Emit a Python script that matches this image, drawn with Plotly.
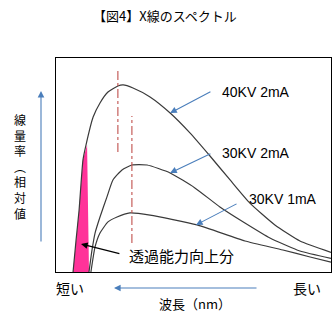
import plotly.graph_objects as go

# ---- data (wavelength in relative units 0-100, intensity relative 0-100) ----
kv40_x = [6.2, 7.3, 8.4, 9.8, 10.9, 13.5, 16.0, 18.9, 22.5, 24.4, 28.0, 34.2, 41.5, 48.7, 56.0, 63.3, 70.5, 79.6, 88.7, 100.0]
kv40_y = [0, 15.0, 29.0, 52.3, 59.3, 72.4, 79.0, 84.1, 86.9, 87.4, 86.0, 81.8, 74.3, 65.0, 54.2, 43.0, 32.2, 22.0, 14.5, 9.2]

kv30_2_x = [12.0, 13.1, 14.2, 16.0, 18.5, 20.7, 24.0, 27.6, 33.1, 41.5, 50.5, 59.6, 68.7, 77.8, 88.7, 100.0]
kv30_2_y = [0, 10.3, 18.2, 25.7, 35.0, 43.0, 47.7, 50.0, 50.0, 46.3, 39.3, 30.4, 22.9, 15.9, 9.8, 6.4]

kv30_1_x = [12.7, 14.2, 16.0, 18.9, 22.2, 26.9, 34.2, 51.3, 68.7, 82.5, 92.4, 100.0]
kv30_1_y = [0, 11.7, 18.2, 23.4, 25.7, 27.6, 26.6, 22.0, 14.5, 10.3, 7.0, 4.6]

pink_x = [6.2, 7.3, 8.4, 9.8, 11.3, 12.0]
pink_y = [0, 15.0, 29.0, 52.3, 59.3, 0]

peak40_x = [22.5, 22.5]
peak40_y = [56.1, 94.9]
peak30_x = [27.6, 27.6]
peak30_y = [13.6, 72.9]

labels = ["40KV 2mA", "30KV 2mA", "30KV 1mA"]
label_pos = [(59.6, 84.1), (59.6, 55.6), (69.5, 34.1)]
arrow_tips = [(41.5, 74.3), (41.5, 46.3), (50.9, 22.0)]
arrow_tails = [(56.7, 84.6), (56.7, 55.6), (66.2, 32.2)]

title = "【図4】X線のスペクトル"
ylabel_chars = ["線", "量", "率", "︵", "相", "対", "値"]
xlabel = "波長（nm）"
short_lbl = "短い"
long_lbl = "長い"
pen_lbl = "透過能力向上分"

W, H = 336, 325
L, R, T, B = 56, 5, 58, 53
pw, ph = W - L - R, H - T - B

def px(xp):
    return (xp - L) / pw

def py(yp):
    return (H - B - yp) / ph

JP = "Noto Sans CJK JP"
LAT = "Liberation Sans, Noto Sans CJK JP"
CURVE = "#3a3a3a"
BLUE = "#4A7EBB"
RED = "#C0504D"

fig = go.Figure()
fig.add_trace(go.Scatter(x=pink_x, y=pink_y, fill="toself", fillcolor="#FF3399",
                         mode="lines", line=dict(width=0), hoverinfo="skip"))
for xs, ys in [(kv40_x, kv40_y), (kv30_2_x, kv30_2_y), (kv30_1_x, kv30_1_y)]:
    fig.add_trace(go.Scatter(x=xs, y=ys, mode="lines",
                             line=dict(color=CURVE, width=1.2, shape="spline", smoothing=0.5)))
for xs, ys in [(peak40_x, peak40_y), (peak30_x, peak30_y)]:
    fig.add_trace(go.Scatter(x=xs, y=ys, mode="lines", line=dict(color=RED, width=1.1, dash="dashdot")))

ann = []
for lbl, (lx, ly), (tx, ty), (ax, ay) in zip(labels, label_pos, arrow_tips, arrow_tails):
    ann.append(dict(x=lx, y=ly, xref="x", yref="y", text=lbl, showarrow=False, xanchor="left",
                    yanchor="middle", font=dict(family=LAT, size=14, color="#000")))
    ann.append(dict(x=tx, y=ty, ax=ax, ay=ay, xref="x", yref="y", axref="x", ayref="y", text="",
                    showarrow=True, arrowhead=2, arrowsize=1.2, arrowwidth=1.1, arrowcolor=BLUE))
ann.append(dict(x=25.8, y=7.9, xref="x", yref="y", text=pen_lbl, showarrow=False, xanchor="left",
                yanchor="middle", font=dict(family=JP, size=15, color="#000")))
ann.append(dict(x=9.1, y=13.1, ax=23.6, ay=8.4, xref="x", yref="y", axref="x", ayref="y", text="",
                showarrow=True, arrowhead=2, arrowsize=1.2, arrowwidth=1.1, arrowcolor="#000"))


def paper_text(xp, yp, text, size):
    return dict(x=px(xp), y=py(yp), xref="paper", yref="paper", text=text, showarrow=False,
                xanchor="center", yanchor="middle", font=dict(family=JP, size=size, color="#000"))


ann.append(paper_text(165, 15, title, 13))
ann.append(paper_text(20, 166, "<br>".join(ylabel_chars), 12))
ann.append(paper_text(70, 288, short_lbl, 14))
ann.append(paper_text(307, 288, long_lbl, 14))
ann.append(paper_text(195, 303, xlabel, 13))

# y arrow
ann.append(dict(x=px(41), y=py(91), xref="paper", yref="paper", ax=0, ay=152, text="",
                showarrow=True, arrowhead=2, arrowsize=1.2, arrowwidth=1.1, arrowcolor=BLUE))
# x arrow
ann.append(dict(x=px(114), y=py(288), xref="paper", yref="paper", ax=144, ay=0, text="",
                showarrow=True, arrowhead=2, arrowsize=1.2, arrowwidth=1.1, arrowcolor=BLUE))

axis = dict(showgrid=False, zeroline=False, showticklabels=False, ticks="",
            showline=True, linecolor="#000", linewidth=1.3, mirror=True, fixedrange=True)
fig.update_layout(
    width=W, height=H, margin=dict(l=L, r=R, t=T, b=B),
    paper_bgcolor="white", plot_bgcolor="white", showlegend=False,
    xaxis=dict(range=[0, 100], **axis), yaxis=dict(range=[0, 100], **axis),
    annotations=ann,
)
fig.write_html("out.html", config={"displayModeBar": False})
